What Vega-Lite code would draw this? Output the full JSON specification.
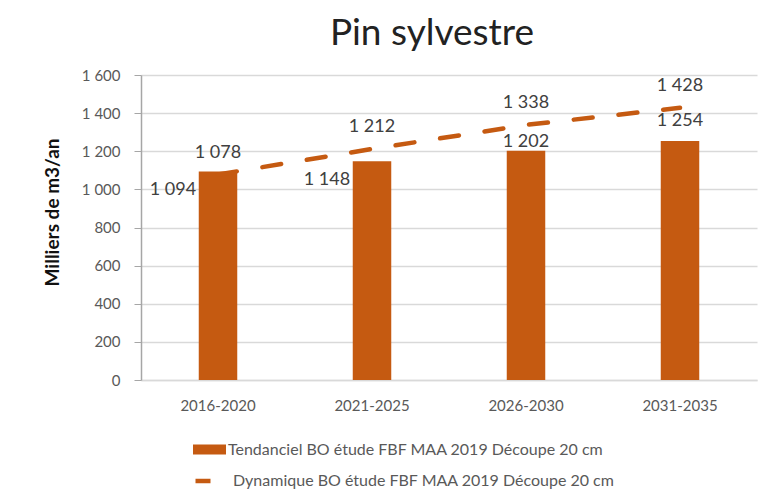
{
  "$schema": "https://vega.github.io/schema/vega-lite/v6.json",
  "width": 616,
  "height": 305,
  "autosize": "none",
  "padding": {"left": 141, "top": 75, "right": 5, "bottom": 114},
  "background": "white",
  "title": {"text": "Pin sylvestre", "font": "Lato", "fontSize": 37, "fontWeight": "normal", "color": "#222222", "anchor": "middle", "dx": -17, "offset": 15},
  "config": {
    "locale": {"number": {"decimal": ",", "thousands": " ", "grouping": [3], "currency": ["", " €"]}},
    "view": {"stroke": null},
    "font": "Lato",
    "axisY": {"tickCount": 8, "format": ",d",
      "titleFont": "Lato", "titleFontSize": 19, "titleFontWeight": "bold", "titleColor": "#111111",
      "titleX": -89, "titleY": 137, "titleAlign": "center", "titleBaseline": "middle", "titleAngle": -90,
      "labelFont": "Lato", "labelFontSize": 15, "labelColor": "#595959", "labelPadding": 14, "labelOverlap": false,
      "tickSize": 7, "tickColor": "#a6a6a6", "domainColor": "#a6a6a6", "domainWidth": 1.5,
      "grid": true, "gridColor": "#d9d9d9", "gridWidth": 1.5}
  },
  "data": {"values": [
    {"period": "2016-2020", "tendanciel": 1094, "dynamique": 1078},
    {"period": "2021-2025", "tendanciel": 1148, "dynamique": 1212},
    {"period": "2026-2030", "tendanciel": 1202, "dynamique": 1338},
    {"period": "2031-2035", "tendanciel": 1254, "dynamique": 1428}
  ]},
  "encoding": {
    "x": {"field": "period", "type": "nominal", "sort": null,
      "scale": {"paddingInner": 0.75, "paddingOuter": 0.375},
      "axis": {"title": null, "labelAngle": 0, "labelFont": "Lato", "labelFontSize": 15, "labelColor": "#595959", "labelPadding": 18, "ticks": false, "domainColor": "#d9d9d9", "domainWidth": 1.5, "grid": false}}
  },
  "layer": [
    {
      "mark": {"type": "bar", "color": "#C55A11"},
      "encoding": {
        "y": {"field": "tendanciel", "type": "quantitative", "scale": {"domain": [0, 1600]}, "title": "Milliers de m3/an"},
        "fill": {"datum": "Tendanciel BO étude FBF MAA 2019 Découpe 20 cm", "type": "nominal",
          "scale": {"range": ["#C55A11"]},
          "legend": {"title": null, "orient": "none", "legendX": 52, "legendY": 358, "padding": 0,
            "symbolType": "M-1,-0.3H1V0.3H-1Z", "symbolSize": 1089, "symbolStrokeWidth": 0, "symbolOpacity": 1,
            "labelFont": "Lato", "labelFontSize": 16, "labelColor": "#595959", "labelOffset": 2, "labelLimit": 0}}
      }
    },
    {
      "mark": {"type": "line", "color": "#C55A11", "strokeWidth": 4.5, "strokeDash": [19, 26], "strokeCap": "round"},
      "encoding": {
        "y": {"field": "dynamique", "type": "quantitative", "title": "Milliers de m3/an"},
        "stroke": {"datum": "Dynamique BO étude FBF MAA 2019 Découpe 20 cm", "type": "nominal",
          "scale": {"range": ["#C55A11"]},
          "legend": {"title": null, "orient": "none", "legendX": 52, "legendY": 387, "padding": 0,
            "symbolType": "stroke", "symbolSize": 1089, "symbolStrokeWidth": 4.5, "symbolDash": [15, 30],
            "labelFont": "Lato", "labelFontSize": 16, "labelColor": "#595959", "labelOffset": 2, "labelLimit": 0}}
      }
    },
    {
      "mark": {"type": "text", "font": "Lato", "fontSize": 18, "color": "#404040", "baseline": "middle", "dy": -22},
      "encoding": {
        "y": {"field": "dynamique", "type": "quantitative", "title": "Milliers de m3/an"},
        "text": {"field": "dynamique", "type": "quantitative", "format": ",d"}
      }
    },
    {
      "transform": [{"filter": "datum.period == '2016-2020' || datum.period == '2021-2025'"}],
      "mark": {"type": "text", "font": "Lato", "fontSize": 18, "color": "#404040", "baseline": "middle", "dx": -45, "dy": 19},
      "encoding": {
        "y": {"field": "tendanciel", "type": "quantitative", "title": "Milliers de m3/an"},
        "text": {"field": "tendanciel", "type": "quantitative", "format": ",d"}
      }
    },
    {
      "transform": [{"filter": "datum.period == '2026-2030'"}],
      "mark": {"type": "text", "font": "Lato", "fontSize": 18, "color": "#404040", "baseline": "middle", "dy": -9},
      "encoding": {
        "y": {"field": "tendanciel", "type": "quantitative", "title": "Milliers de m3/an"},
        "text": {"field": "tendanciel", "type": "quantitative", "format": ",d"}
      }
    },
    {
      "transform": [{"filter": "datum.period == '2031-2035'"}],
      "mark": {"type": "text", "font": "Lato", "fontSize": 18, "color": "#404040", "baseline": "middle", "dy": -20},
      "encoding": {
        "y": {"field": "tendanciel", "type": "quantitative", "title": "Milliers de m3/an"},
        "text": {"field": "tendanciel", "type": "quantitative", "format": ",d"}
      }
    }
  ]
}
